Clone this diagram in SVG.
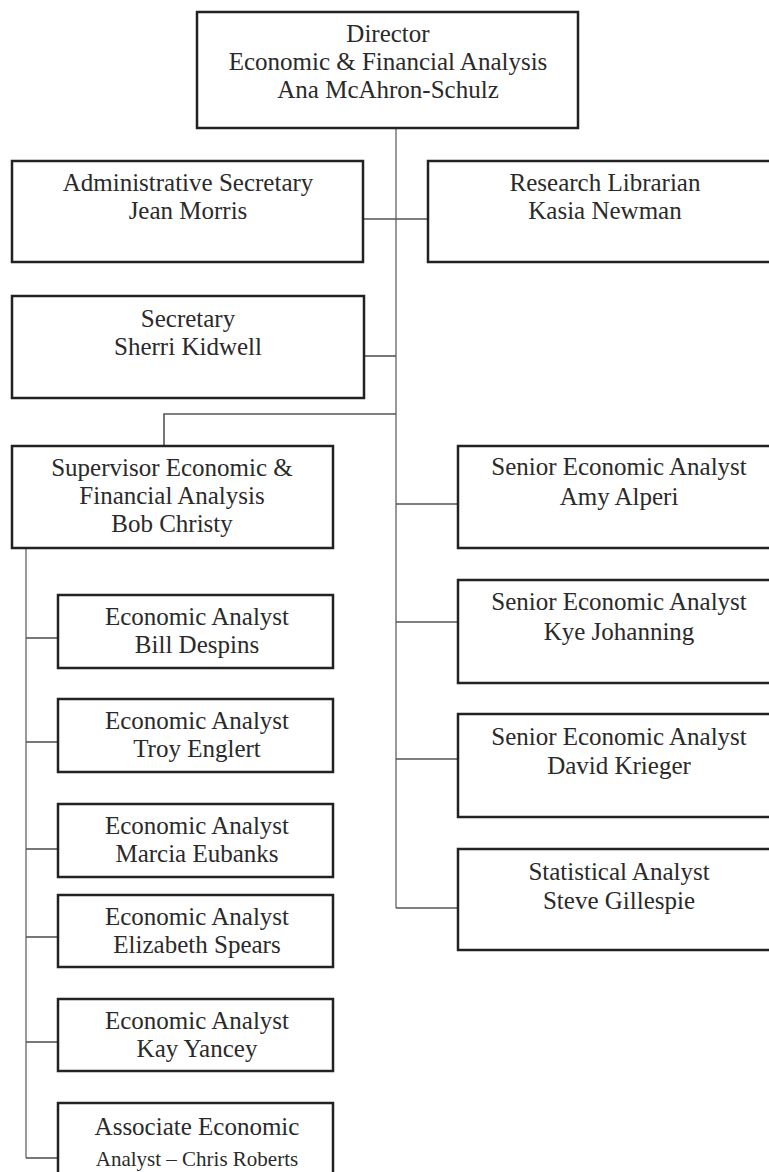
<svg xmlns="http://www.w3.org/2000/svg" width="769" height="1172" viewBox="0 0 769 1172">
<style>
.box{fill:#fff;stroke:#222;stroke-width:2.5}
.t{font-family:"Liberation Serif","Times New Roman",serif;font-size:25px;fill:#2a2a2a;text-anchor:middle}
.s{font-size:21px}
.trunk{stroke:#999;stroke-width:2;fill:none}
.br{stroke:#555;stroke-width:1.6;fill:none}
</style>
<rect width="769" height="1172" fill="#fff"/>
<g id="connectors">
<line class="trunk" x1="396" y1="128" x2="396" y2="908"/>
<line class="trunk" x1="26" y1="548" x2="26" y2="1158"/>
<line class="br" x1="363" y1="219" x2="428" y2="219"/>
<line class="br" x1="364" y1="356" x2="396" y2="356"/>
<path class="br" d="M396 414 H164 V446"/>
<line class="br" x1="396" y1="504" x2="458" y2="504"/>
<line class="br" x1="396" y1="622" x2="458" y2="622"/>
<line class="br" x1="396" y1="759" x2="458" y2="759"/>
<line class="br" x1="396" y1="908" x2="458" y2="908"/>
<line class="br" x1="26" y1="638" x2="58" y2="638"/>
<line class="br" x1="26" y1="742" x2="58" y2="742"/>
<line class="br" x1="26" y1="849" x2="58" y2="849"/>
<line class="br" x1="26" y1="937" x2="58" y2="937"/>
<line class="br" x1="26" y1="1042" x2="58" y2="1042"/>
<line class="br" x1="26" y1="1158" x2="58" y2="1158"/>
</g>
<g id="director">
<rect class="box" x="197" y="12" width="381" height="116"/>
<text class="t" x="388" y="42">Director</text>
<text class="t" x="388" y="70">Economic &amp; Financial Analysis</text>
<text class="t" x="388" y="98">Ana McAhron-Schulz</text>
</g>
<g id="admin-secretary">
<rect class="box" x="12" y="161" width="351" height="101"/>
<text class="t" x="188" y="191">Administrative Secretary</text>
<text class="t" x="188" y="219">Jean Morris</text>
</g>
<g id="research-librarian">
<rect class="box" x="428" y="161" width="360" height="101"/>
<text class="t" x="605" y="191">Research Librarian</text>
<text class="t" x="605" y="219">Kasia Newman</text>
</g>
<g id="secretary">
<rect class="box" x="12" y="296" width="352" height="102"/>
<text class="t" x="188" y="327">Secretary</text>
<text class="t" x="188" y="355">Sherri Kidwell</text>
</g>
<g id="supervisor">
<rect class="box" x="12" y="446" width="321" height="102"/>
<text class="t" x="172" y="476">Supervisor Economic &amp;</text>
<text class="t" x="172" y="504">Financial Analysis</text>
<text class="t" x="172" y="532">Bob Christy</text>
</g>
<g id="amy-alperi">
<rect class="box" x="458" y="446" width="330" height="102"/>
<text class="t" x="619" y="475">Senior Economic Analyst</text>
<text class="t" x="619" y="505">Amy Alperi</text>
</g>
<g id="kye-johanning">
<rect class="box" x="458" y="580" width="330" height="103"/>
<text class="t" x="619" y="610">Senior Economic Analyst</text>
<text class="t" x="619" y="640">Kye Johanning</text>
</g>
<g id="david-krieger">
<rect class="box" x="458" y="714" width="330" height="103"/>
<text class="t" x="619" y="745">Senior Economic Analyst</text>
<text class="t" x="619" y="774">David Krieger</text>
</g>
<g id="steve-gillespie">
<rect class="box" x="458" y="849" width="330" height="101"/>
<text class="t" x="619" y="880">Statistical Analyst</text>
<text class="t" x="619" y="909">Steve Gillespie</text>
</g>
<g id="bill-despins">
<rect class="box" x="58" y="595" width="275" height="73"/>
<text class="t" x="197" y="625">Economic Analyst</text>
<text class="t" x="197" y="653">Bill Despins</text>
</g>
<g id="troy-englert">
<rect class="box" x="58" y="699" width="275" height="73"/>
<text class="t" x="197" y="729">Economic Analyst</text>
<text class="t" x="197" y="757">Troy Englert</text>
</g>
<g id="marcia-eubanks">
<rect class="box" x="58" y="804" width="275" height="73"/>
<text class="t" x="197" y="834">Economic Analyst</text>
<text class="t" x="197" y="862">Marcia Eubanks</text>
</g>
<g id="elizabeth-spears">
<rect class="box" x="58" y="895" width="275" height="72"/>
<text class="t" x="197" y="925">Economic Analyst</text>
<text class="t" x="197" y="953">Elizabeth Spears</text>
</g>
<g id="kay-yancey">
<rect class="box" x="58" y="999" width="275" height="72"/>
<text class="t" x="197" y="1029">Economic Analyst</text>
<text class="t" x="197" y="1057">Kay Yancey</text>
</g>
<g id="chris-roberts">
<rect class="box" x="58" y="1103" width="275" height="85"/>
<text class="t" x="197" y="1135">Associate Economic</text>
<text class="t s" x="197" y="1166">Analyst – Chris Roberts</text>
</g>
</svg>
